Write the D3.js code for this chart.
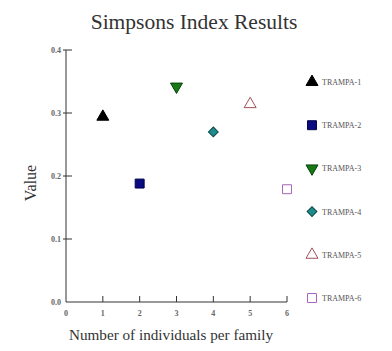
<!DOCTYPE html>
<html>
<head>
<meta charset="utf-8">
<script src="https://cdn.jsdelivr.net/npm/d3@7"></script>
<style>
  body{margin:0;background:#fff;}
  svg{display:block;font-family:"Liberation Serif","Times New Roman",serif;}
</style>
</head>
<body>
<svg id="chart" width="392" height="351"></svg>
<script>
// data
var traps=['TRAMPA-1','TRAMPA-2','TRAMPA-3','TRAMPA-4','TRAMPA-5','TRAMPA-6'];
var families=[1,2,3,4,5,6];
var simpson=[0.294,0.188,0.342,0.270,0.314,0.179];
var xTicks=[0,1,2,3,4,5,6];
var yTicks=[0.0,0.1,0.2,0.3,0.4];

// marker styles per trap
var shapes=[d3.symbolTriangle,d3.symbolSquare,d3.symbolTriangle,d3.symbolSquare,d3.symbolTriangle,d3.symbolSquare];
var fills=['#000','#0b0b80','#157a15','#1f8c8c','none','none'];
var strokes=['#000','#000050','#0a400a','#0d4a4a','#a0505a','#a664b8'];
var rot=[0,0,180,45,0,0];
var sizes=[62,80,62,48,62,80];

var svg=d3.select('#chart');
var x=d3.scaleLinear().domain([0,6]).range([66,287]);
var y=d3.scaleLinear().domain([0,0.4]).range([302,50]);

svg.append('text')
  .attr('x',194).attr('y',29)
  .attr('text-anchor','middle')
  .attr('font-size',21.5)
  .attr('fill','#333')
  .text('Simpsons Index Results');

// y axis
var yAxis=svg.append('g').attr('transform','translate(66,0)');
yAxis.append('line').attr('y1',y(0)).attr('y2',y(0.4)).attr('stroke','#333');
yAxis.selectAll('.yt').data(yTicks).enter().append('line')
  .attr('x1',-3).attr('x2',6)
  .attr('y1',d=>y(d)).attr('y2',d=>y(d))
  .attr('stroke',(d)=>d==0?'none':'#333');
yAxis.selectAll('.yl').data(yTicks).enter().append('text')
  .attr('x',-5).attr('y',d=>y(d)+3)
  .attr('text-anchor','end')
  .attr('font-size',8).attr('font-weight','bold').attr('fill','#666')
  .text(d=>d.toFixed(1));

// x axis
var xAxis=svg.append('g').attr('transform','translate(0,302)');
xAxis.append('line').attr('x1',x(0)).attr('x2',x(6)).attr('stroke','#333');
xAxis.selectAll('.xt').data(xTicks.filter(d=>d>0)).enter().append('line')
  .attr('x1',d=>x(d)).attr('x2',d=>x(d))
  .attr('y1',-6).attr('y2',0)
  .attr('stroke','#333');
xAxis.selectAll('.xl').data(xTicks).enter().append('text')
  .attr('x',d=>x(d)).attr('y',14)
  .attr('text-anchor','middle')
  .attr('font-size',8).attr('font-weight','bold').attr('fill','#666')
  .text(d=>d);

svg.append('text')
  .attr('x',171).attr('y',340)
  .attr('text-anchor','middle')
  .attr('font-size',15.2).attr('fill','#333')
  .text('Number of individuals per family');

svg.append('text')
  .attr('transform','translate(36,183) rotate(-90)')
  .attr('text-anchor','middle')
  .attr('font-size',16).attr('fill','#333')
  .text('Value');

function marker(sel,i){
  sel.attr('d',d3.symbol().type(shapes[i]).size(sizes[i])())
    .attr('fill',fills[i])
    .attr('stroke',strokes[i])
    .attr('stroke-width',1);
}

// points
traps.forEach(function(t,i){
  var p=svg.append('path')
    .attr('transform','translate('+x(families[i])+','+y(simpson[i])+') rotate('+rot[i]+')');
  marker(p,i);
});

// legend
var leg=svg.append('g');
traps.forEach(function(t,i){
  var ly=82+i*43.2;
  var p=leg.append('path')
    .attr('transform','translate(312,'+ly+') rotate('+rot[i]+')');
  marker(p,i);
  leg.append('text')
    .attr('x',322).attr('y',ly+3)
    .attr('font-size',8).attr('fill','#555')
    .text(t);
});
</script>
</body>
</html>
